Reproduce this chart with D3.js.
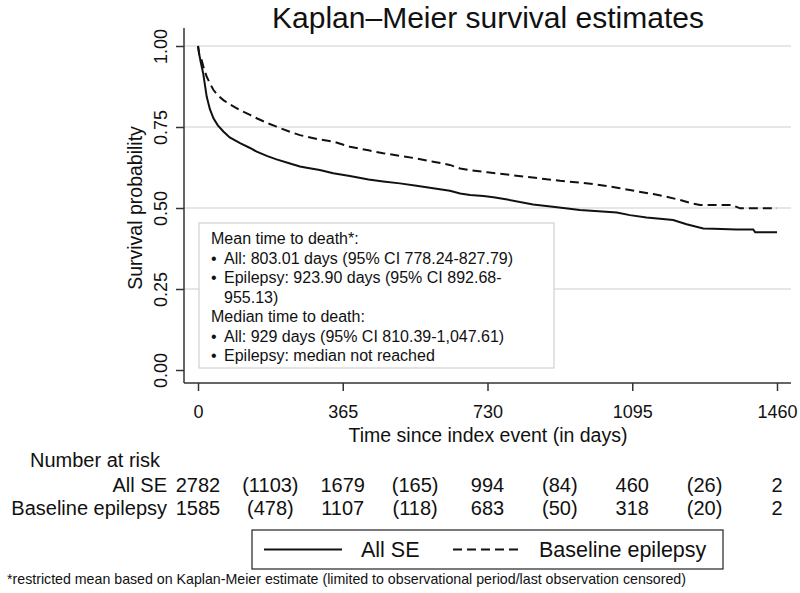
<!DOCTYPE html>
<html><head><meta charset="utf-8">
<script src="https://cdn.jsdelivr.net/npm/d3@7"></script>
<style>body{margin:0;background:#fff}svg{display:block}</style>
</head><body><svg id="c" width="800" height="593"></svg>
<script>
const title = "Kaplan–Meier survival estimates";
const xTicks = [0, 365, 730, 1095, 1460];
const yTicks = [0, 0.25, 0.5, 0.75, 1];
const gridTicks = [0.25, 0.5, 0.75, 1];
const allDays = [0,3,7,13,22,30,39,50,64,80,106,130,148,175,198,230,257,274,307,341,383,430,467,509,551,593,635,661,686,720,745,780,845,900,963,1010,1056,1089,1131,1165,1198,1232,1274,1300,1358,1400,1405,1460];
const allSurv = [1,0.975,0.95,0.916,0.843,0.805,0.777,0.755,0.736,0.718,0.700,0.686,0.674,0.660,0.650,0.638,0.628,0.624,0.617,0.607,0.599,0.588,0.582,0.576,0.569,0.561,0.553,0.545,0.540,0.537,0.533,0.526,0.511,0.503,0.494,0.490,0.486,0.478,0.471,0.467,0.463,0.450,0.437,0.436,0.434,0.434,0.425,0.425];
const epiDays = [0,3,9,15,22,30,39,50,64,80,106,130,148,175,198,230,257,274,300,341,383,430,467,509,551,593,635,661,686,730,787,850,913,960,997,1030,1064,1100,1148,1180,1215,1240,1266,1300,1350,1355,1367,1460];
const epiSurv = [1,0.975,0.957,0.93,0.905,0.885,0.864,0.848,0.833,0.82,0.802,0.788,0.777,0.762,0.751,0.736,0.725,0.720,0.713,0.705,0.689,0.678,0.669,0.661,0.653,0.643,0.633,0.622,0.617,0.610,0.602,0.593,0.584,0.579,0.574,0.568,0.561,0.553,0.543,0.535,0.525,0.516,0.509,0.509,0.509,0.505,0.499,0.499];
const riskTimes = [0,182.5,365,547.5,730,912.5,1095,1277.5,1460];
const riskAll = ["2782","(1103)","1679","(165)","994","(84)","460","(26)","2"];
const riskEpi = ["1585","(478)","1107","(118)","683","(50)","318","(20)","2"];
const rowLabels = ["All SE","Baseline epilepsy"];
const seriesNames = ["All SE","Baseline epilepsy"];
const boxLines = [
  {b:false,t:"Mean time to death*:"},
  {b:true,t:"All: 803.01 days (95% CI 778.24-827.79)"},
  {b:true,t:"Epilepsy: 923.90 days (95% CI 892.68-"},
  {b:false,t:"955.13)",indent:true},
  {b:false,t:"Median time to death:"},
  {b:true,t:"All: 929 days (95% CI 810.39-1,047.61)"},
  {b:true,t:"Epilepsy: median not reached"}
];
const footnote = "*restricted mean based on Kaplan-Meier estimate (limited to observational period/last observation censored)";

const F = "'Liberation Sans', Arial, sans-serif";
const svg = d3.select("#c");
const x = d3.scaleLinear().domain([0,1460]).range([198,777]);
const y = d3.scaleLinear().domain([0,1]).range([370,46]);
const plotL = 184, plotR = 791, plotT = 28, axisY = 383;

// gridlines
svg.append("g").selectAll("line").data(gridTicks).join("line")
  .attr("x1",plotL).attr("x2",plotR).attr("y1",d=>y(d)).attr("y2",d=>y(d))
  .attr("stroke","#dedede").attr("stroke-width",1.5);

// curves
const line = d3.line().x(d=>x(d[0])).y(d=>y(d[1]));
svg.append("path").datum(epiDays.map((d,i)=>[d,epiSurv[i]]))
  .attr("d",line).attr("fill","none").attr("stroke","#111").attr("stroke-width",2)
  .attr("stroke-dasharray","9,5");
svg.append("path").datum(allDays.map((d,i)=>[d,allSurv[i]]))
  .attr("d",line).attr("fill","none").attr("stroke","#111").attr("stroke-width",2);

// axes
const yAx = svg.append("g").attr("transform",`translate(${plotL},0)`)
  .call(d3.axisLeft(y).tickValues(yTicks).tickFormat(d3.format(".2f")).tickSize(8).tickSizeOuter(0));
yAx.select(".domain").attr("d",`M0,${plotT}V${axisY}`).attr("stroke","#333").attr("stroke-width",1.5);
yAx.selectAll(".tick line").attr("stroke","#333").attr("stroke-width",1.5);
yAx.selectAll(".tick text").attr("font-family",F).attr("font-size",18).attr("fill","#111")
  .attr("transform","rotate(-90)").attr("x",0).attr("y",-17).attr("dy",0)
  .attr("text-anchor","middle");
const xAx = svg.append("g").attr("transform",`translate(0,${axisY})`)
  .call(d3.axisBottom(x).tickValues(xTicks).tickFormat(d3.format("d")).tickSize(8).tickSizeOuter(0));
xAx.select(".domain").attr("d",`M${plotL},0H${plotR}`).attr("stroke","#333").attr("stroke-width",1.5);
xAx.selectAll(".tick line").attr("stroke","#333").attr("stroke-width",1.5);
xAx.selectAll(".tick text").attr("font-family",F).attr("font-size",18).attr("fill","#111")
  .attr("y",35).attr("dy",0);

// titles
svg.append("text").attr("x",488).attr("y",28).attr("text-anchor","middle")
  .attr("font-family",F).attr("font-size",30).attr("fill","#111").text(title);
svg.append("text").attr("transform","translate(142,208) rotate(-90)").attr("text-anchor","middle")
  .attr("font-family",F).attr("font-size",19.5).attr("fill","#111").text("Survival probability");
svg.append("text").attr("x",488).attr("y",442).attr("text-anchor","middle")
  .attr("font-family",F).attr("font-size",19.5).attr("fill","#111").text("Time since index event (in days)");

// annotation box
svg.append("rect").attr("x",199).attr("y",223).attr("width",355).attr("height",145)
  .attr("fill","#fff").attr("stroke","#c8c8c8").attr("stroke-width",1);
const bt = svg.append("g").attr("font-family",F).attr("font-size",16).attr("fill","#111");
boxLines.forEach((l,i)=>{
  const yy = 244 + i*19.5;
  if(l.b) bt.append("text").attr("x",211).attr("y",yy).text("•");
  bt.append("text").attr("x",(l.b||l.indent)?224:211).attr("y",yy).text(l.t);
});

// risk table
const rt = svg.append("g").attr("font-family",F).attr("font-size",20).attr("fill","#111");
rt.append("text").attr("x",30).attr("y",467).text("Number at risk");
[riskAll,riskEpi].forEach((row,ri)=>{
  const yy = 492 + ri*23;
  rt.append("text").attr("x",167).attr("y",yy).attr("text-anchor","end").text(rowLabels[ri]);
  rt.selectAll(null).data(row).join("text").attr("x",(d,i)=>x(riskTimes[i])).attr("y",yy)
    .attr("text-anchor","middle").text(d=>d);
});

// legend
const lg = svg.append("g");
lg.append("rect").attr("x",252).attr("y",530).attr("width",471).attr("height",39)
  .attr("fill","#fff").attr("stroke","#222").attr("stroke-width",1.2);
lg.append("line").attr("x1",264).attr("x2",342).attr("y1",549.5).attr("y2",549.5)
  .attr("stroke","#111").attr("stroke-width",2);
lg.append("text").attr("x",361).attr("y",557).attr("font-family",F).attr("font-size",21.5)
  .attr("fill","#111").text(seriesNames[0]);
lg.append("line").attr("x1",453).attr("x2",521).attr("y1",549.5).attr("y2",549.5)
  .attr("stroke","#111").attr("stroke-width",2).attr("stroke-dasharray","9,5");
lg.append("text").attr("x",539).attr("y",557).attr("font-family",F).attr("font-size",21.5)
  .attr("fill","#111").text(seriesNames[1]);

// footnote
svg.append("text").attr("x",7).attr("y",584).attr("font-family",F)
  .attr("font-size",14.2).attr("fill","#111").text(footnote);
</script></body></html>
